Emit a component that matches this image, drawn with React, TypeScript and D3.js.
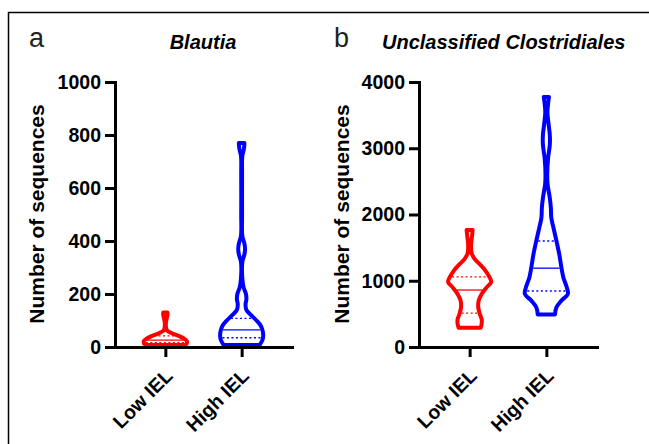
import React, { useEffect, useRef } from "react";
import * as d3 from "d3";

// categories and colours
const groups = ["Low IEL", "High IEL"];
const groupColors = ["#ff0000", "#0000ff"];

// panel a - Blautia
const blautiaTicks = [0, 200, 400, 600, 800, 1000];
const blautiaLowValues = [130, 122, 110, 95, 75, 62, 52, 42, 32, 22, 14, 8];
const blautiaLowDensity = [10, 10, 7, 3, 3, 8, 30, 62, 86, 100, 100, 93];
const blautiaLowQuartiles = [16, 26, 42];
const blautiaHighValues = [770, 750, 720, 650, 500, 420, 390, 370, 350, 320, 260, 225, 200, 180, 160, 140, 120, 100, 80, 60, 40, 25, 8];
const blautiaHighDensity = [13, 11, 3, 2, 2, 3, 13, 16, 13, 3, 3, 9, 20, 22, 18, 22, 44, 69, 89, 98, 100, 96, 84];
const blautiaHighQuartiles = [35, 65, 108];

// panel b - Unclassified Clostridiales
const clostTicks = [0, 1000, 2000, 3000, 4000];
const clostLowValues = [1766, 1700, 1550, 1420, 1330, 1250, 1150, 1050, 980, 900, 800, 700, 600, 500, 420, 350, 290];
const clostLowDensity = [14, 12, 7, 9, 23, 47, 74, 93, 100, 79, 56, 42, 40, 47, 56, 56, 51];
const clostLowQuartiles = [510, 860, 1060];
const clostHighValues = [3774, 3700, 3550, 3400, 3200, 3050, 2850, 2600, 2450, 2250, 2100, 1950, 1800, 1600, 1400, 1200, 1050, 900, 800, 700, 600, 490];
const clostHighDensity = [12, 9, 5, 9, 16, 16, 8, 4, 6, 16, 21, 23, 33, 47, 60, 70, 79, 95, 100, 70, 47, 40];
const clostHighQuartiles = [845, 1190, 1600];

const FONT = "'Liberation Sans', Arial, sans-serif";
const top = 82, bottom = 347, halfMax = 21.5;

type Violin = { values: number[]; density: number[]; quartiles: number[] };

const Panel = ({ letter, letterX, title, titleX, titleAnchor, labelX, axisX, axisEnd, ticks, violins }:
  { letter: string; letterX: number; title: string; titleX: number; titleAnchor: string; labelX: number;
    axisX: number; axisEnd: number; ticks: number[]; violins: Violin[] }) => {
  const yRef = useRef<SVGGElement>(null);
  const xRef = useRef<SVGGElement>(null);

  const y = d3.scaleLinear().domain([0, d3.max(ticks)!]).range([bottom, top]);
  const x = d3.scalePoint().domain(groups).range([axisX, axisEnd]).padding(0.66);
  const w = d3.scaleLinear().domain([0, 100]).range([0, halfMax]);

  useEffect(() => {
    const gy = d3.select(yRef.current!);
    gy.call(d3.axisLeft(y).tickValues(ticks).tickFormat(d3.format("d")).tickSize(10).tickSizeOuter(0).tickPadding(4));
    gy.attr("font-family", FONT).attr("font-size", 19.5).attr("font-weight", "bold");
    gy.select(".domain").attr("stroke-width", 3).attr("stroke-linecap", "square");
    gy.selectAll(".tick line").attr("stroke-width", 3);
    gy.selectAll(".tick text").attr("fill", "#000");

    const gx = d3.select(xRef.current!);
    gx.call(d3.axisBottom(x).tickSize(10).tickSizeOuter(0));
    gx.attr("font-family", FONT).attr("font-size", 19.5).attr("font-weight", "bold");
    gx.select(".domain").attr("stroke-width", 3).attr("stroke-linecap", "square");
    gx.selectAll(".tick line").attr("stroke-width", 3);
    gx.selectAll(".tick text")
      .attr("fill", "#000")
      .attr("y", 0).attr("dy", 0)
      .attr("text-anchor", "end")
      .attr("transform", "translate(8,30) rotate(-45)");
  }, []);

  return (
    <g>
      <text x={letterX} y={47} fontFamily={FONT} fontSize={27} fill="#222">{letter}</text>
      <text x={titleX} y={49} textAnchor={titleAnchor} fontFamily={FONT} fontSize={20}
        fontWeight="bold" fontStyle="italic">{title}</text>
      <text transform={`translate(${labelX},214) rotate(-90)`} textAnchor="middle"
        fontFamily={FONT} fontSize={21} fontWeight="bold">Number of sequences</text>
      {violins.map((v, i) => {
        const cx = x(groups[i])!;
        const pts = v.values.map((val, j) => [val, v.density[j]] as [number, number]);
        const area = d3.area<[number, number]>()
          .y(d => y(d[0]))
          .x0(d => cx - w(d[1]))
          .x1(d => cx + w(d[1]))
          .curve(d3.curveCatmullRom);
        const widthAt = d3.scaleLinear().domain(v.values).range(v.density);
        return (
          <g key={i}>
            <path d={area(pts)!} fill="none" stroke={groupColors[i]} strokeWidth={4}
              strokeLinejoin="round" />
            {v.quartiles.map((q, k) => {
              const hw = Math.max(w(widthAt(q)) - 2, 1);
              return (
                <line key={k} x1={cx - hw} x2={cx + hw} y1={y(q)} y2={y(q)}
                  stroke={groupColors[i]} strokeWidth={1.3}
                  strokeDasharray={k === 1 ? undefined : "2,2.5"} />
              );
            })}
          </g>
        );
      })}
      <g ref={xRef} transform={`translate(0,${bottom})`} />
      <g ref={yRef} transform={`translate(${axisX},0)`} />
    </g>
  );
};

export default function App() {
  return (
    <svg width={649} height={444} style={{ position: "absolute", left: 0, top: 0, background: "#fff" }}>
      <rect width={649} height={444} fill="#fff" />
      <path d="M8.5,444V12.5H649" fill="none" stroke="#000" strokeWidth={1.5} />
      <Panel letter="a" letterX={29} title="Blautia" titleX={203} titleAnchor="middle" labelX={44}
        axisX={115} axisEnd={292} ticks={blautiaTicks}
        violins={[
          { values: blautiaLowValues, density: blautiaLowDensity, quartiles: blautiaLowQuartiles },
          { values: blautiaHighValues, density: blautiaHighDensity, quartiles: blautiaHighQuartiles },
        ]} />
      <Panel letter="b" letterX={334} title="Unclassified Clostridiales" titleX={382} titleAnchor="start"
        labelX={349} axisX={419} axisEnd={597} ticks={clostTicks}
        violins={[
          { values: clostLowValues, density: clostLowDensity, quartiles: clostLowQuartiles },
          { values: clostHighValues, density: clostHighDensity, quartiles: clostHighQuartiles },
        ]} />
    </svg>
  );
}
